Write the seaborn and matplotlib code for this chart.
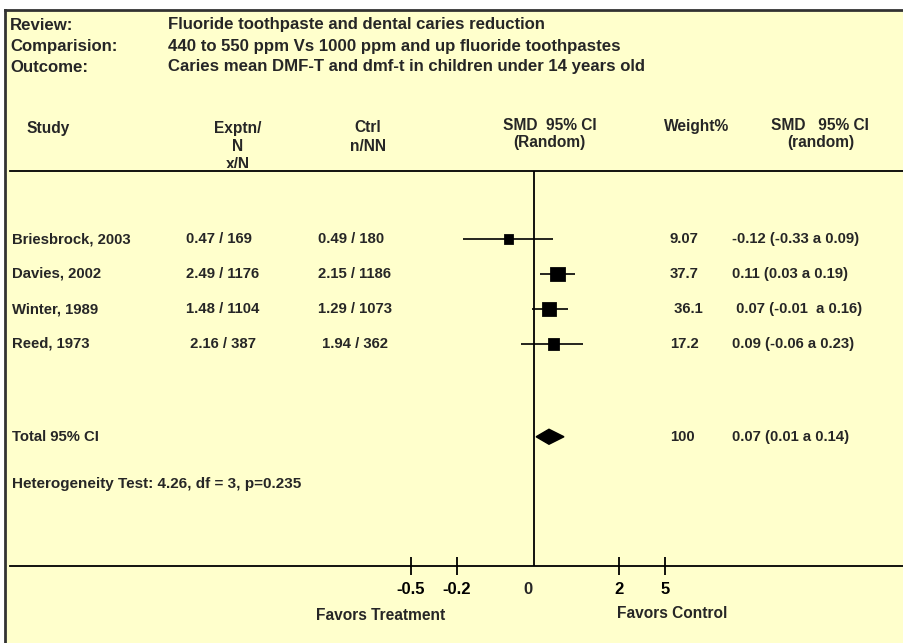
import numpy as np
import seaborn as sns
from matplotlib import pyplot as plt
from matplotlib import transforms, font_manager
from matplotlib.transforms import Bbox, TransformedBbox

# ---- data ----
header_keys = ["Review:", "Comparision:", "Outcome:"]
header_values = [
    "Fluoride toothpaste and dental caries reduction",
    "440 to 550 ppm Vs 1000 ppm and up fluoride toothpastes",
    "Caries mean DMF-T and dmf-t in children under 14 years old",
]

studies = ["Briesbrock, 2003", "Davies, 2002", "Winter, 1989", "Reed, 1973"]
exptn = ["0.47 / 169", "2.49 / 1176", "1.48 / 1104", " 2.16 / 387"]
ctrl = ["0.49 / 180", "2.15 / 1186", "1.29 / 1073", " 1.94 / 362"]
smd = [-0.12, 0.11, 0.07, 0.09]
ci_low = [-0.33, 0.03, -0.01, -0.06]
ci_high = [0.09, 0.19, 0.16, 0.23]
weights = [9.07, 37.7, 36.1, 17.2]
weight_labels = ["9.07", "37.7", " 36.1", "17.2"]
ci_labels = [
    "-0.12 (-0.33 a 0.09)",
    "0.11 (0.03 a 0.19)",
    " 0.07 (-0.01  a 0.16)",
    "0.09 (-0.06 a 0.23)",
]

total_name = "Total 95% CI"
total_smd = 0.07
total_low = 0.01
total_high = 0.14
total_weight = "100"
total_label = "0.07 (0.01 a 0.14)"
heterogeneity = "Heterogeneity Test: 4.26, df = 3, p=0.235"

axis_tick_labels = ["-0.5", "-0.2", "2", "5"]
zero_label = "0"

# ---- layout ----
W, H = 904, 643
BG = "#FFFFCC"
PX_PER_UNIT = 214
ZERO_PX = 534
ROW_PX = 35
FIRST_ROW_PX = 239
TOP_PX, BOTTOM_PX = 171, 566
tick_pos = [-0.575, -0.36, 0.397, 0.612]
zero_pos = -0.028
rows = np.arange(len(studies))
total_row = 5.65
het_row = 7.0


def fx(px):
    return px / W


def fy(py):
    return 1 - py / H


sns.set_style("white")
plt.rcParams["font.family"] = ["Liberation Sans", "DejaVu Sans"]
plt.rcParams["font.weight"] = "bold"

installed = {f.name for f in font_manager.fontManager.ttflist}
if "Liberation Sans Narrow" in installed:
    narrow = ["Liberation Sans Narrow", "DejaVu Sans"]
    head_fs, favor_fs = 14.5, 13.3
else:
    narrow = ["Liberation Sans", "DejaVu Sans"]
    head_fs, favor_fs = 12.1, 11.2

fig = plt.figure(figsize=(W / 100, H / 100), dpi=100, facecolor="white")

# yellow panel with dark top/left border
bg = fig.add_axes([fx(5), 0, 1 - fx(5), fy(10)], zorder=-1)
bg.set_facecolor(BG)
bg.set_xticks([])
bg.set_yticks([])
for side in ["right", "bottom"]:
    bg.spines[side].set_visible(False)
for side in ["top", "left"]:
    bg.spines[side].set_color("#333333")
    bg.spines[side].set_linewidth(2)

# forest plot axes
ax = fig.add_axes([fx(10), fy(BOTTOM_PX), fx(W) - fx(10), (BOTTOM_PX - TOP_PX) / H])
ax.set_facecolor("none")
ax.set_xlim(-(ZERO_PX - 10) / PX_PER_UNIT, (W - ZERO_PX) / PX_PER_UNIT)
ax.set_ylim((BOTTOM_PX - FIRST_ROW_PX) / ROW_PX, -(FIRST_ROW_PX - TOP_PX) / ROW_PX)
for side in ["left", "right"]:
    ax.spines[side].set_visible(False)
for side in ["top", "bottom"]:
    ax.spines[side].set_color("black")
    ax.spines[side].set_linewidth(1.3)
ax.set_yticks([])

ax.axvline(0, color="black", lw=1.3)
ax.hlines(rows, ci_low, ci_high, colors="black", lw=1.2)
sns.scatterplot(
    x=smd, y=rows, size=weights, sizes=(45, 110), marker="s",
    color="black", edgecolor="black", legend=False, ax=ax, zorder=3,
)
dh = 7.5 / ROW_PX
ax.fill(
    [total_low, total_smd, total_high, total_smd],
    [total_row, total_row - dh, total_row, total_row + dh],
    color="black", zorder=3,
)

ax.set_xticks(tick_pos, axis_tick_labels)
ax.set_xticks([zero_pos], [zero_label], minor=True)
ax.tick_params(axis="x", which="major", bottom=True, direction="inout",
               length=13.5, width=1.3, pad=5, labelsize=12, colors="black")
ax.tick_params(axis="x", which="minor", bottom=True, length=0, pad=11.7,
               labelsize=12)
for lab in ax.get_xticklabels(which="both"):
    lab.set_fontweight("bold")

# table text
trans = transforms.blended_transform_factory(fig.transFigure, ax.transData)
row_fs = 10.7
for i, r in enumerate(rows):
    ax.text(fx(12), r, studies[i], transform=trans, va="center", fontsize=row_fs)
    ax.text(fx(186), r, exptn[i], transform=trans, va="center", fontsize=row_fs)
    ax.text(fx(318), r, ctrl[i], transform=trans, va="center", fontsize=row_fs)
    ax.text(fx(670), r, weight_labels[i], transform=trans, va="center", fontsize=row_fs)
    ax.text(fx(732), r, ci_labels[i], transform=trans, va="center", fontsize=row_fs)
ax.text(fx(12), total_row, total_name, transform=trans, va="center", fontsize=row_fs)
ax.text(fx(670), total_row, total_weight, transform=trans, va="center", fontsize=row_fs)
ax.text(fx(732), total_row, total_label, transform=trans, va="center", fontsize=row_fs)
ax.text(fx(12), het_row, heterogeneity, transform=trans, va="center", fontsize=11)

# review header
for i, (k, v) in enumerate(zip(header_keys, header_values)):
    y = 25 + 21 * i
    fig.text(fx(10), fy(y), k, va="center", fontsize=head_fs, family=narrow)
    fig.text(fx(168), fy(y), v, va="center", fontsize=head_fs, family=narrow)

# column headers
col_fs = 11.2
fig.text(fx(27), fy(128), "Study", va="center", fontsize=col_fs)
fig.text(fx(238), fy(128), "Exptn/", ha="center", va="center", fontsize=col_fs)
fig.text(fx(238), fy(146), "N", ha="center", va="center", fontsize=col_fs)
xn = fig.text(fx(238), fy(164.5), "x/N", ha="center", va="center", fontsize=col_fs)
xn.set_clip_box(TransformedBbox(Bbox([[0, fy(167.5)], [1, 1]]), fig.transFigure))
xn.set_clip_on(True)
fig.text(fx(368), fy(127), "Ctrl", ha="center", va="center", fontsize=col_fs)
fig.text(fx(368), fy(146), "n/NN", ha="center", va="center", fontsize=col_fs)
fig.text(fx(550), fy(126), "SMD  95% CI", ha="center", va="center", fontsize=col_fs)
fig.text(fx(549), fy(143), "(Random)", ha="center", va="center", fontsize=col_fs)
fig.text(fx(697), fy(126), "Weight%", ha="center", va="center", fontsize=col_fs)
fig.text(fx(820), fy(126), "SMD   95% CI", ha="center", va="center", fontsize=col_fs)
fig.text(fx(821), fy(143), "(random)", ha="center", va="center", fontsize=col_fs)

fig.text(fx(381), fy(616), "Favors Treatment", ha="center", va="center",
         fontsize=favor_fs, family=narrow)
fig.text(fx(672), fy(613), "Favors Control", ha="center", va="center",
         fontsize=favor_fs, family=narrow)

fig.savefig("out.png", dpi=100, facecolor="white")
